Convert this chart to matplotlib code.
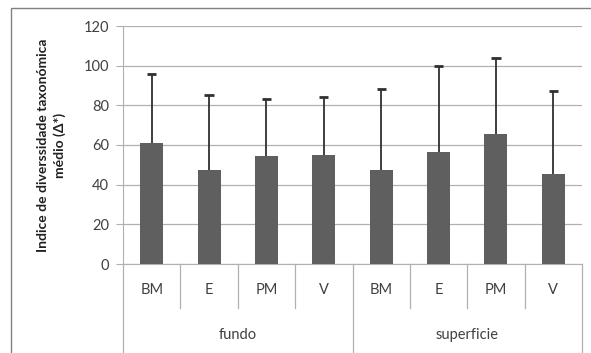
import matplotlib
matplotlib.use("Agg")
import matplotlib.pyplot as plt
from matplotlib.lines import Line2D
from matplotlib.patches import Rectangle

groups = ["fundo", "superficie"]
sites = ["BM", "E", "PM", "V"]
means = [61, 47.5, 54.5, 55, 47.5, 56.5, 65.5, 45.5]
upper = [96, 85, 83, 84, 88, 100, 104, 87]
yticks = [0, 20, 40, 60, 80, 100, 120]

plt.rcParams['font.family'] = ['Lato', 'DejaVu Sans']

W, H = 591, 353
fig = plt.figure(figsize=(W / 100, H / 100), dpi=100)
fig.patch.set_facecolor('white')

L, R, B, T = 123, 582, 264, 26
ax = fig.add_axes([L / W, 1 - B / H, (R - L) / W, (B - T) / H])

n = len(means)
x = list(range(n))
ax.bar(x, means, width=0.4, color='#5f5f5f', zorder=3)
ax.vlines(x, means, upper, color='#303030', linewidth=1.3, zorder=4)
ax.hlines(upper, [i - 0.08 for i in x], [i + 0.08 for i in x],
          color='#303030', linewidth=2, zorder=4)

ax.set_xlim(-0.5, n - 0.5)
ax.set_ylim(0, 120)
ax.set_yticks(yticks)
ax.yaxis.grid(True, color='#b0b0b0', linewidth=0.9, zorder=0)
ax.tick_params(axis='y', length=5, color='#b0b0b0', labelsize=10.5,
               labelcolor='#404040', pad=5)
ax.tick_params(axis='x', length=0, labelbottom=False)
for s in ['top', 'right']:
    ax.spines[s].set_visible(False)
ax.spines['left'].set_color('#b0b0b0')
ax.spines['bottom'].set_color('#b0b0b0')

ax.set_ylabel("Indice de diverssidade taxonómica\nmédio (Δ*)", fontsize=10,
              fontweight='bold', color='#202020', labelpad=13, linespacing=1.4)

trans = ax.get_xaxis_transform()
def fy(py):
    return (B - py) / (B - T)

for k in range(n + 1):
    bottom_px = 360 if k % 4 == 0 else 308
    ax.add_line(Line2D([k - 0.5, k - 0.5], [0, fy(bottom_px)], transform=trans,
                       color='#b0b0b0', linewidth=0.9, clip_on=False))
for i in range(n):
    ax.text(i, fy(290), sites[i % 4], transform=trans, ha='center', va='center',
            fontsize=10.5, color='#404040')
for g, name in enumerate(groups):
    ax.text(g * 4 + 1.5, fy(335), name, transform=trans, ha='center', va='center',
            fontsize=10.5, color='#404040')

fig.patches.append(Rectangle((11 / W, -0.1), 1.2, 1 - 8 / H + 0.1,
                             transform=fig.transFigure, fill=False,
                             edgecolor='#808080', linewidth=1.0))

fig.savefig("out.png", dpi=100)
